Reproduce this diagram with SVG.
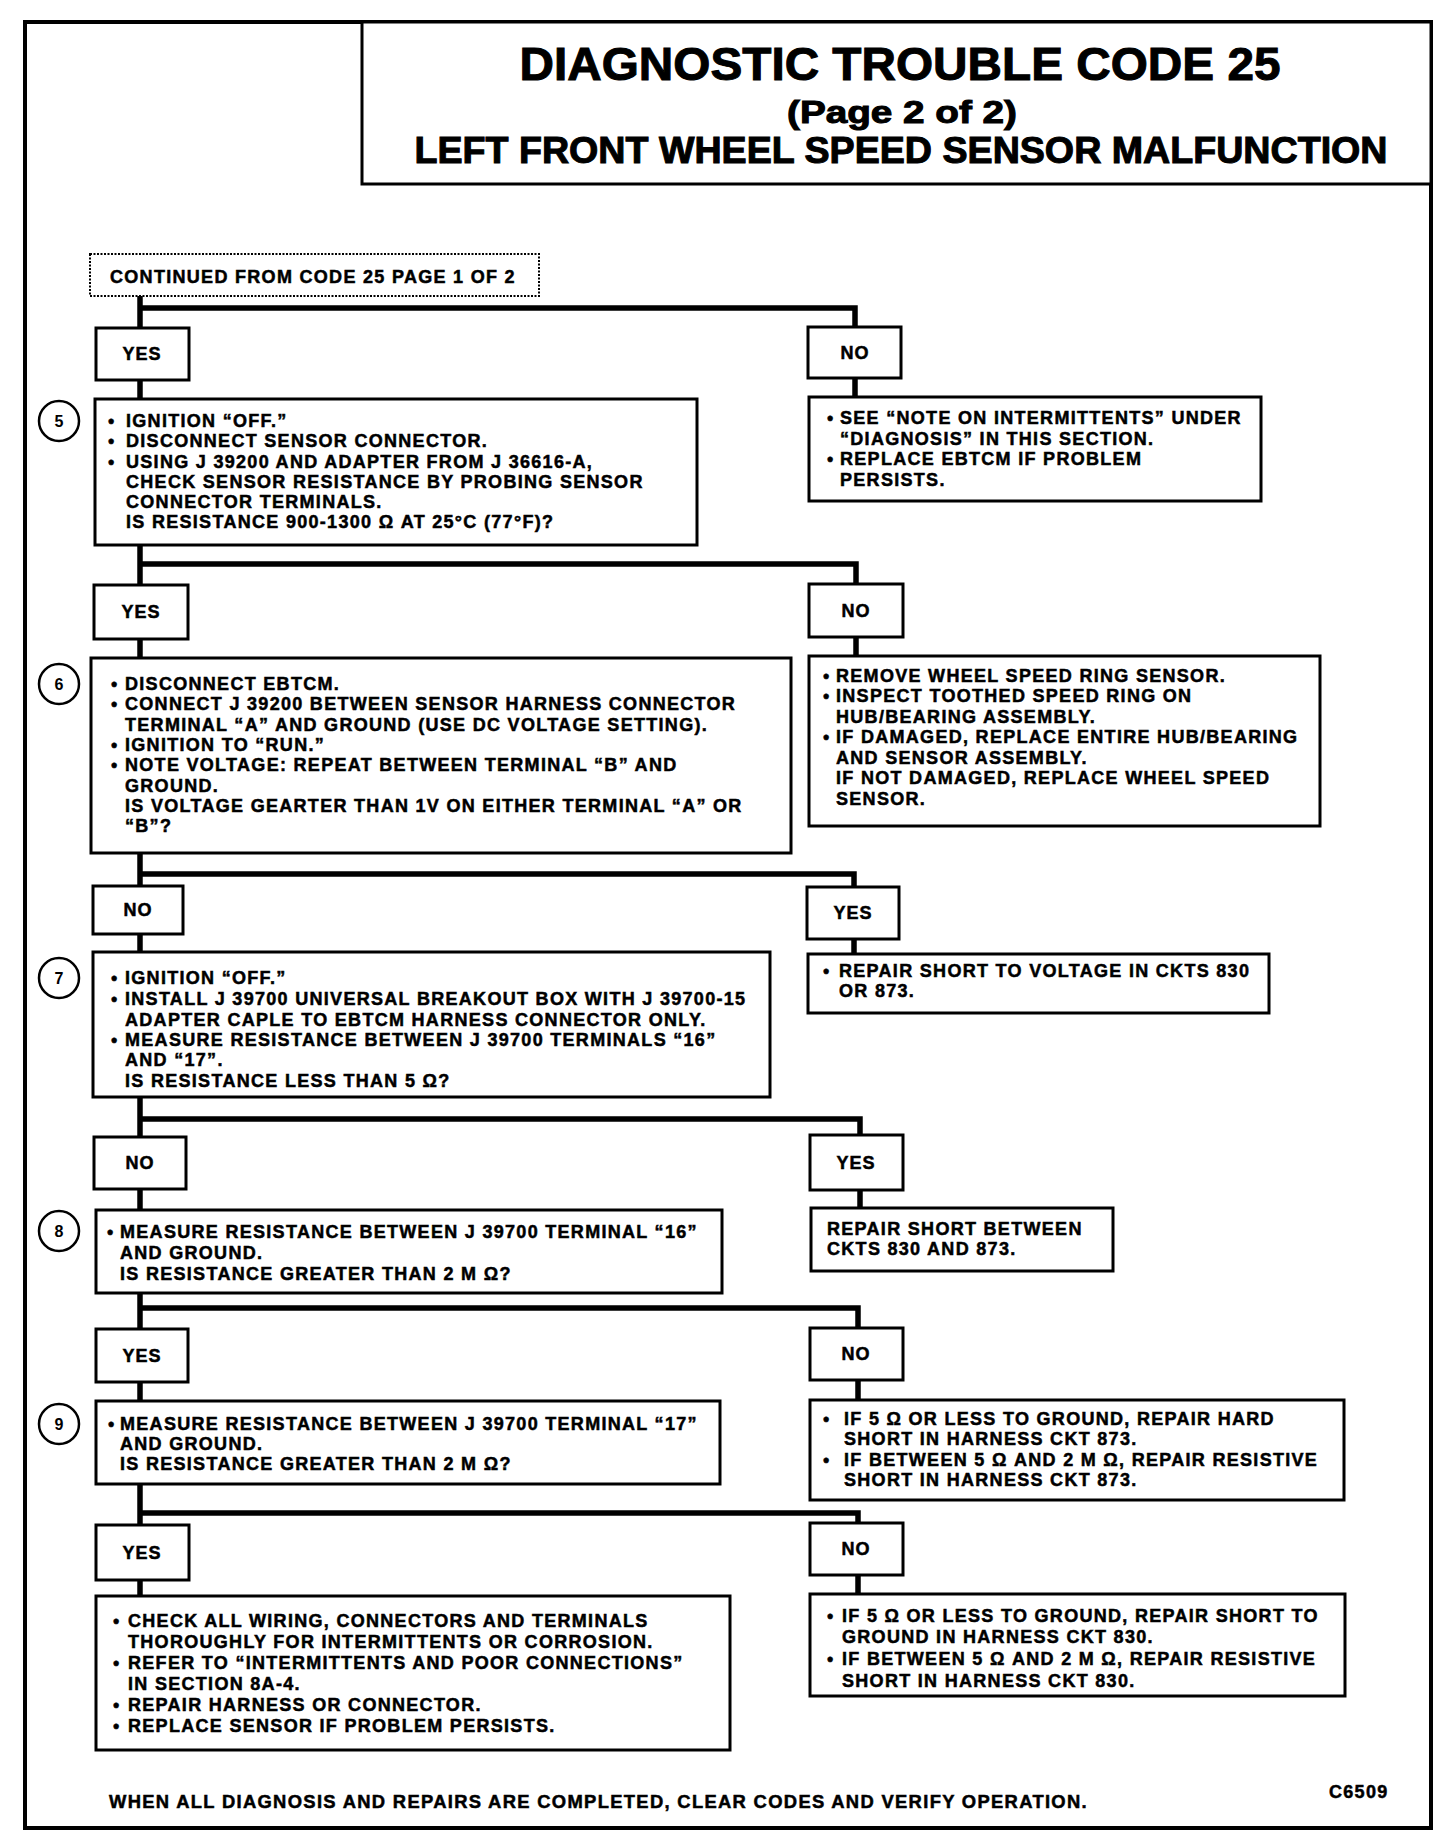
<svg xmlns="http://www.w3.org/2000/svg" width="1456" height="1846" viewBox="0 0 1456 1846">
<style>
.t{font-family:"Liberation Sans",Arial,sans-serif;font-weight:bold;font-size:18px;letter-spacing:1.3px;fill:#000;stroke:#000;stroke-width:0.5}
.lbl{font-family:"Liberation Sans",Arial,sans-serif;font-weight:bold;font-size:18px;letter-spacing:1px;fill:#000;stroke:#000;stroke-width:0.5;text-anchor:middle}
.num{font-family:"Liberation Sans",Arial,sans-serif;font-weight:bold;font-size:16px;fill:#000;text-anchor:middle}
.hd{font-family:"Liberation Sans",Arial,sans-serif;font-weight:bold;fill:#000;stroke:#000;stroke-width:1;text-anchor:middle}
.box{fill:#fff;stroke:#000;stroke-width:3}
.circ{fill:#fff;stroke:#000;stroke-width:2.5}
.con{fill:none;stroke:#000;stroke-width:5.5}
</style>
<rect x="0" y="0" width="1456" height="1846" fill="#fff"/>
<rect x="25" y="22" width="1406" height="1806" fill="none" stroke="#000" stroke-width="4"/>
<g id="title">
<rect x="362" y="22" width="1069" height="162" fill="#fff" stroke="#000" stroke-width="3"/>
<text class="hd" x="900" y="80" font-size="46" textLength="761" lengthAdjust="spacingAndGlyphs">DIAGNOSTIC TROUBLE CODE 25</text>
<text class="hd" x="902" y="123" font-size="31" textLength="230" lengthAdjust="spacingAndGlyphs">(Page 2 of 2)</text>
<text class="hd" x="901" y="163" font-size="36" textLength="973" lengthAdjust="spacingAndGlyphs">LEFT FRONT WHEEL SPEED SENSOR MALFUNCTION</text>
</g>
<g id="connectors">
<line class="con" x1="140" y1="296" x2="140" y2="1596"/>
<polyline class="con" points="140,308 855,308 855,397"/>
<polyline class="con" points="140,564 856,564 856,656"/>
<polyline class="con" points="140,874 854,874 854,954"/>
<polyline class="con" points="140,1119 860,1119 860,1208"/>
<polyline class="con" points="140,1308 858,1308 858,1400"/>
<polyline class="con" points="140,1513 858,1513 858,1594"/>
</g>
<g id="continued">
<rect x="90" y="254" width="449" height="42" fill="#fff" stroke="#000" stroke-width="2" stroke-dasharray="2 1.5"/>
<text class="t" x="110" y="283" font-size="19" letter-spacing="1">CONTINUED FROM CODE 25 PAGE 1 OF 2</text>
</g>
<g id="yes1"><rect class="box" x="96" y="328" width="93" height="52"/><text class="lbl" x="142" y="360">YES</text></g>
<g id="no1"><rect class="box" x="808" y="327" width="93" height="51"/><text class="lbl" x="855" y="359">NO</text></g>
<g id="step5">
<circle class="circ" cx="59" cy="421" r="20"/><text class="num" x="59" y="427">5</text>
<rect class="box" x="95" y="399" width="602" height="146"/>
<text class="t" x="108" y="427">•</text><text class="t" x="126" y="427">IGNITION “OFF.”</text>
<text class="t" x="108" y="447">•</text><text class="t" x="126" y="447">DISCONNECT SENSOR CONNECTOR.</text>
<text class="t" x="108" y="468">•</text><text class="t" x="126" y="468">USING J 39200 AND ADAPTER FROM J 36616-A,</text>
<text class="t" x="126" y="488">CHECK SENSOR RESISTANCE BY PROBING SENSOR</text>
<text class="t" x="126" y="508">CONNECTOR TERMINALS.</text>
<text class="t" x="126" y="528">IS RESISTANCE 900-1300 Ω AT 25°C (77°F)?</text>
</g>
<g id="no1result">
<rect class="box" x="809" y="397" width="452" height="104"/>
<text class="t" x="827" y="424">•</text><text class="t" x="840" y="424">SEE “NOTE ON INTERMITTENTS” UNDER</text>
<text class="t" x="840" y="445">“DIAGNOSIS” IN THIS SECTION.</text>
<text class="t" x="827" y="465">•</text><text class="t" x="840" y="465">REPLACE EBTCM IF PROBLEM</text>
<text class="t" x="840" y="486">PERSISTS.</text>
</g>
<g id="yes2"><rect class="box" x="94" y="585" width="94" height="54"/><text class="lbl" x="141" y="618">YES</text></g>
<g id="no2"><rect class="box" x="809" y="584" width="94" height="53"/><text class="lbl" x="856" y="617">NO</text></g>
<g id="step6">
<circle class="circ" cx="59" cy="684" r="20"/><text class="num" x="59" y="690">6</text>
<rect class="box" x="91" y="658" width="700" height="195"/>
<text class="t" x="111" y="690">•</text><text class="t" x="125" y="690">DISCONNECT EBTCM.</text>
<text class="t" x="111" y="710">•</text><text class="t" x="125" y="710">CONNECT J 39200 BETWEEN SENSOR HARNESS CONNECTOR</text>
<text class="t" x="125" y="731">TERMINAL “A” AND GROUND (USE DC VOLTAGE SETTING).</text>
<text class="t" x="111" y="751">•</text><text class="t" x="125" y="751">IGNITION TO “RUN.”</text>
<text class="t" x="111" y="771">•</text><text class="t" x="125" y="771">NOTE VOLTAGE: REPEAT BETWEEN TERMINAL “B” AND</text>
<text class="t" x="125" y="792">GROUND.</text>
<text class="t" x="125" y="812">IS VOLTAGE GEARTER THAN 1V ON EITHER TERMINAL “A” OR</text>
<text class="t" x="125" y="832">“B”?</text>
</g>
<g id="no2result">
<rect class="box" x="809" y="656" width="511" height="170"/>
<text class="t" x="823" y="682">•</text><text class="t" x="836" y="682">REMOVE WHEEL SPEED RING SENSOR.</text>
<text class="t" x="823" y="702">•</text><text class="t" x="836" y="702">INSPECT TOOTHED SPEED RING ON</text>
<text class="t" x="836" y="723">HUB/BEARING ASSEMBLY.</text>
<text class="t" x="823" y="743">•</text><text class="t" x="836" y="743">IF DAMAGED, REPLACE ENTIRE HUB/BEARING</text>
<text class="t" x="836" y="764">AND SENSOR ASSEMBLY.</text>
<text class="t" x="836" y="784">IF NOT DAMAGED, REPLACE WHEEL SPEED</text>
<text class="t" x="836" y="805">SENSOR.</text>
</g>
<g id="no3"><rect class="box" x="93" y="886" width="90" height="48"/><text class="lbl" x="138" y="916">NO</text></g>
<g id="yes3"><rect class="box" x="807" y="887" width="92" height="52"/><text class="lbl" x="853" y="919">YES</text></g>
<g id="step7">
<circle class="circ" cx="59" cy="978" r="20"/><text class="num" x="59" y="984">7</text>
<rect class="box" x="93" y="952" width="677" height="145"/>
<text class="t" x="111" y="984">•</text><text class="t" x="125" y="984">IGNITION “OFF.”</text>
<text class="t" x="111" y="1005">•</text><text class="t" x="125" y="1005">INSTALL J 39700 UNIVERSAL BREAKOUT BOX WITH J 39700-15</text>
<text class="t" x="125" y="1026">ADAPTER CAPLE TO EBTCM HARNESS CONNECTOR ONLY.</text>
<text class="t" x="111" y="1046">•</text><text class="t" x="125" y="1046">MEASURE RESISTANCE BETWEEN J 39700 TERMINALS “16”</text>
<text class="t" x="125" y="1066">AND “17”.</text>
<text class="t" x="125" y="1087">IS RESISTANCE LESS THAN 5 Ω?</text>
</g>
<g id="yes3result">
<rect class="box" x="808" y="954" width="461" height="59"/>
<text class="t" x="823" y="977">•</text><text class="t" x="839" y="977">REPAIR SHORT TO VOLTAGE IN CKTS 830</text>
<text class="t" x="839" y="997">OR 873.</text>
</g>
<g id="no4"><rect class="box" x="94" y="1137" width="92" height="52"/><text class="lbl" x="140" y="1169">NO</text></g>
<g id="yes4"><rect class="box" x="810" y="1135" width="93" height="55"/><text class="lbl" x="856" y="1169">YES</text></g>
<g id="step8">
<circle class="circ" cx="59" cy="1231" r="20"/><text class="num" x="59" y="1237">8</text>
<rect class="box" x="96" y="1210" width="626" height="83"/>
<text class="t" x="107" y="1238">•</text><text class="t" x="120" y="1238">MEASURE RESISTANCE BETWEEN J 39700 TERMINAL “16”</text>
<text class="t" x="120" y="1259">AND GROUND.</text>
<text class="t" x="120" y="1280">IS RESISTANCE GREATER THAN 2 M Ω?</text>
</g>
<g id="yes4result">
<rect class="box" x="811" y="1208" width="302" height="63"/>
<text class="t" x="827" y="1235">REPAIR SHORT BETWEEN</text>
<text class="t" x="827" y="1255">CKTS 830 AND 873.</text>
</g>
<g id="yes5"><rect class="box" x="96" y="1329" width="92" height="53"/><text class="lbl" x="142" y="1362">YES</text></g>
<g id="no5"><rect class="box" x="810" y="1328" width="93" height="52"/><text class="lbl" x="856" y="1360">NO</text></g>
<g id="step9">
<circle class="circ" cx="59" cy="1424" r="20"/><text class="num" x="59" y="1430">9</text>
<rect class="box" x="96" y="1401" width="624" height="83"/>
<text class="t" x="108" y="1430">•</text><text class="t" x="120" y="1430">MEASURE RESISTANCE BETWEEN J 39700 TERMINAL “17”</text>
<text class="t" x="120" y="1450">AND GROUND.</text>
<text class="t" x="120" y="1470">IS RESISTANCE GREATER THAN 2 M Ω?</text>
</g>
<g id="no5result">
<rect class="box" x="810" y="1400" width="534" height="100"/>
<text class="t" x="823" y="1425">•</text><text class="t" x="844" y="1425">IF 5 Ω OR LESS TO GROUND, REPAIR HARD</text>
<text class="t" x="844" y="1445">SHORT IN HARNESS CKT 873.</text>
<text class="t" x="823" y="1466">•</text><text class="t" x="844" y="1466">IF BETWEEN 5 Ω AND 2 M Ω, REPAIR RESISTIVE</text>
<text class="t" x="844" y="1486">SHORT IN HARNESS CKT 873.</text>
</g>
<g id="yes6"><rect class="box" x="96" y="1525" width="93" height="55"/><text class="lbl" x="142" y="1559">YES</text></g>
<g id="no6"><rect class="box" x="810" y="1523" width="93" height="52"/><text class="lbl" x="856" y="1555">NO</text></g>
<g id="yes6result">
<rect class="box" x="96" y="1596" width="634" height="154"/>
<text class="t" x="113" y="1627">•</text><text class="t" x="128" y="1627">CHECK ALL WIRING, CONNECTORS AND TERMINALS</text>
<text class="t" x="128" y="1648">THOROUGHLY FOR INTERMITTENTS OR CORROSION.</text>
<text class="t" x="113" y="1669">•</text><text class="t" x="128" y="1669">REFER TO “INTERMITTENTS AND POOR CONNECTIONS”</text>
<text class="t" x="128" y="1690">IN SECTION 8A-4.</text>
<text class="t" x="113" y="1711">•</text><text class="t" x="128" y="1711">REPAIR HARNESS OR CONNECTOR.</text>
<text class="t" x="113" y="1732">•</text><text class="t" x="128" y="1732">REPLACE SENSOR IF PROBLEM PERSISTS.</text>
</g>
<g id="no6result">
<rect class="box" x="810" y="1594" width="535" height="102"/>
<text class="t" x="827" y="1622">•</text><text class="t" x="842" y="1622">IF 5 Ω OR LESS TO GROUND, REPAIR SHORT TO</text>
<text class="t" x="842" y="1643">GROUND IN HARNESS CKT 830.</text>
<text class="t" x="827" y="1665">•</text><text class="t" x="842" y="1665">IF BETWEEN 5 Ω AND 2 M Ω, REPAIR RESISTIVE</text>
<text class="t" x="842" y="1687">SHORT IN HARNESS CKT 830.</text>
</g>
<g id="footer">
<text class="t" x="109" y="1808" textLength="979" lengthAdjust="spacingAndGlyphs">WHEN ALL DIAGNOSIS AND REPAIRS ARE COMPLETED, CLEAR CODES AND VERIFY OPERATION.</text>
<text class="t" x="1329" y="1798" font-size="17" letter-spacing="0.5">C6509</text>
</g>
</svg>
